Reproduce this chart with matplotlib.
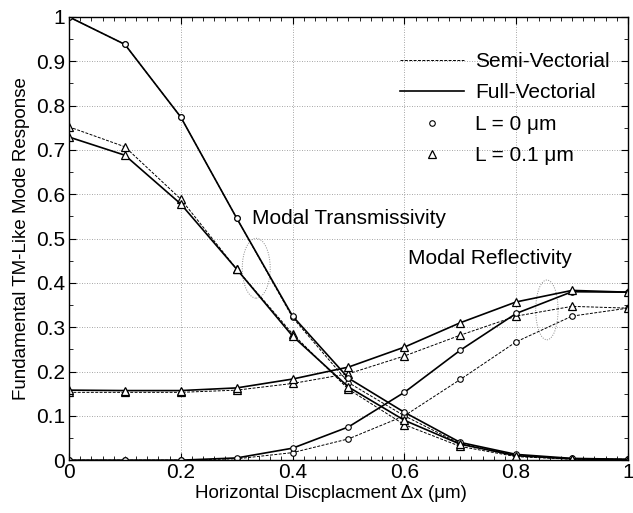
import matplotlib.pyplot as plt
from matplotlib.lines import Line2D
from matplotlib.patches import Ellipse
from matplotlib.ticker import MultipleLocator

plt.rcParams["font.family"] = ["Liberation Sans", "DejaVu Sans"]

dx = [0.0, 0.1, 0.2, 0.3, 0.4, 0.5, 0.6, 0.7, 0.8, 0.9, 1.0]

# modal transmissivity
trans_fv_l0 = [1.0, 0.938, 0.774, 0.546, 0.325, 0.185, 0.108, 0.04, 0.013, 0.004, 0.002]
trans_sv_l0 = [1.0, 0.938, 0.774, 0.546, 0.322, 0.175, 0.100, 0.037, 0.011, 0.003, 0.002]
trans_fv_l01 = [0.729, 0.688, 0.578, 0.431, 0.280, 0.165, 0.090, 0.036, 0.010, 0.003, 0.001]
trans_sv_l01 = [0.752, 0.707, 0.589, 0.431, 0.285, 0.160, 0.080, 0.031, 0.008, 0.002, 0.001]

# modal reflectivity
refl_fv_l0 = [0.0, 0.0, 0.0, 0.005, 0.027, 0.075, 0.153, 0.248, 0.331, 0.380, 0.379]
refl_sv_l0 = [0.0, 0.0, 0.0, 0.003, 0.017, 0.048, 0.100, 0.182, 0.267, 0.325, 0.343]
refl_fv_l01 = [0.158, 0.157, 0.157, 0.163, 0.183, 0.210, 0.255, 0.310, 0.357, 0.383, 0.379]
refl_sv_l01 = [0.153, 0.153, 0.153, 0.158, 0.173, 0.195, 0.235, 0.282, 0.325, 0.347, 0.343]

xticks = [0, 0.2, 0.4, 0.6, 0.8, 1.0]
xticklabels = ["0", "0.2", "0.4", "0.6", "0.8", "1"]
yticks = [0, 0.1, 0.2, 0.3, 0.4, 0.5, 0.6, 0.7, 0.8, 0.9, 1.0]
yticklabels = ["0", "0.1", "0.2", "0.3", "0.4", "0.5", "0.6", "0.7", "0.8", "0.9", "1"]

fig = plt.figure(figsize=(6.33, 5.13), dpi=100)
ax = fig.add_axes([0.109, 0.103, 0.883, 0.864])

solid = dict(color="black", lw=1.2, ls="-")
dashed = dict(color="black", lw=0.7, ls=(0, (3, 1.5)))
circ = dict(marker="o", ms=4, mfc="white", mec="black", mew=0.8)
tri = dict(marker="^", ms=6, mfc="white", mec="black", mew=0.9)

ax.plot(dx, trans_sv_l0, **dashed, **circ)
ax.plot(dx, trans_sv_l01, **dashed, **tri)
ax.plot(dx, refl_sv_l0, **dashed, **circ)
ax.plot(dx, refl_sv_l01, **dashed, **tri)
ax.plot(dx, trans_fv_l0, **solid, **circ)
ax.plot(dx, trans_fv_l01, **solid, **tri)
ax.plot(dx, refl_fv_l0, **solid, **circ)
ax.plot(dx, refl_fv_l01, **solid, **tri)

ax.set_xlim(0, 1)
ax.set_ylim(0, 1)
ax.set_xticks(xticks, xticklabels)
ax.set_yticks(yticks, yticklabels)
ax.xaxis.set_minor_locator(MultipleLocator(0.02))
ax.yaxis.set_minor_locator(MultipleLocator(0.05))
ax.tick_params(which="both", direction="in", top=True, right=True, labelsize=15)
ax.tick_params(axis="x", which="major", length=5, pad=2)
ax.tick_params(axis="y", which="major", length=5, pad=3)
ax.tick_params(which="minor", length=3)
ax.grid(True, which="major", ls=(0, (1, 2)), color="#888888", lw=0.6)
for s in ax.spines.values():
    s.set_linewidth(1.0)

ax.set_xlabel("Horizontal Discplacment \u0394x (\u03bcm)", fontsize=13.5, labelpad=0)
ax.xaxis.set_label_coords(0.469, -0.055)
ax.set_ylabel("Fundamental TM-Like Mode Response", fontsize=13.5, labelpad=4)

ax.text(0.327, 0.546, "Modal Transmissivity", fontsize=15, va="center")
ax.text(0.607, 0.456, "Modal Reflectivity", fontsize=15, va="center")
ax.add_patch(Ellipse((0.335, 0.433), 0.05, 0.135, fill=False, ec="#888888",
                     lw=0.7, ls=(0, (1, 1.5))))
ax.add_patch(Ellipse((0.855, 0.339), 0.04, 0.135, fill=False, ec="#888888",
                     lw=0.7, ls=(0, (1, 1.5))))

handles = [
    Line2D([], [], **dashed),
    Line2D([], [], **solid),
    Line2D([], [], ls="none", marker="o", ms=4, mfc="white", mec="black", mew=0.8),
    Line2D([], [], ls="none", marker="^", ms=6, mfc="white", mec="black", mew=0.9),
]
labels = ["Semi-Vectorial", "Full-Vectorial", "L = 0 \u03bcm", "L = 0.1 \u03bcm"]
ax.legend(handles, labels, loc="upper left", bbox_to_anchor=(0.592, 0.921),
          frameon=False, fontsize=15, handlelength=3.1, labelspacing=0.6,
          handletextpad=0.5, borderpad=0, borderaxespad=0)

fig.savefig("out.png", dpi=100)
